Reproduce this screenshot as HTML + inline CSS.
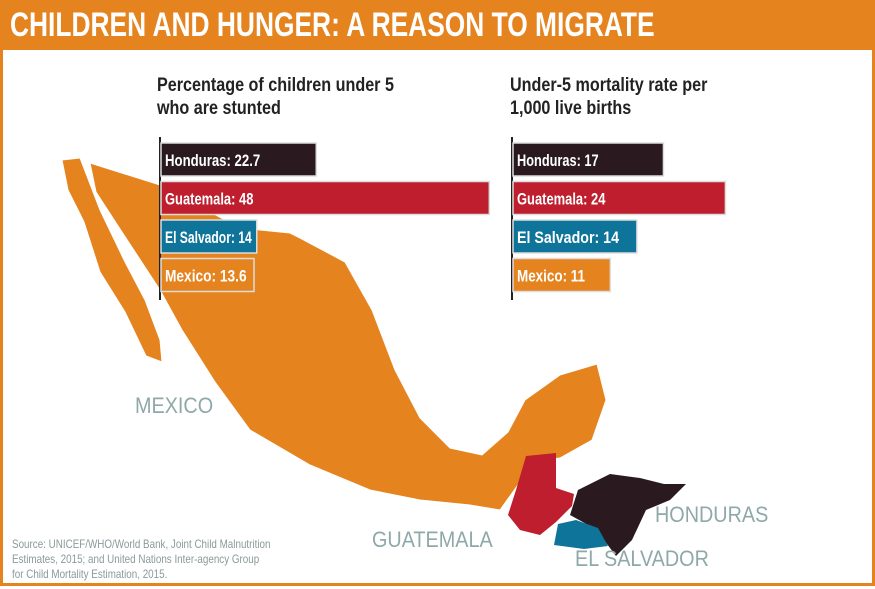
<!DOCTYPE html>
<html><head><meta charset="utf-8"><style>
body{margin:0;width:875px;height:589px;overflow:hidden;background:#fff;font-family:"Liberation Sans",sans-serif}
.frame{position:absolute;left:0;top:0;width:869px;height:583px;border:3px solid #E5831F;border-top:none}
.title{position:absolute;left:0;top:0;width:875px;height:50px;background:#E5831F}
.title span{position:absolute;left:10px;top:6px;color:#fff;font-weight:bold;font-size:34px;transform:scaleX(0.775);transform-origin:left top;white-space:nowrap}
.ct{position:absolute;font-weight:bold;font-size:19px;line-height:23px;color:#222;transform:scaleX(0.85);transform-origin:left top;white-space:nowrap}
.lbl{position:absolute;color:#8fa8a8;font-size:22px;transform:scaleX(0.9);transform-origin:left top;white-space:nowrap}
.src{position:absolute;left:12px;top:537px;color:#8a9a9a;font-size:12px;line-height:15px;transform:scaleX(0.82);transform-origin:left top;white-space:nowrap}
</style></head><body>
<div class="frame"></div>
<div class="title"><span>CHILDREN AND HUNGER: A REASON TO MIGRATE</span></div>
<svg width="875" height="589" style="position:absolute;left:0;top:0">
<g fill="#E5831F" stroke="#fff" stroke-width="1">
<path d="M62,160 L80,158 L100,210 L125,262 L145,300 L160,340 L162,362 L146,356 L125,312 L100,272 L84,222 L68,190Z"/>
<path d="M90,163 L160,185 L240,228 L290,233 L300,238 L345,262 L372,310 L395,370 L420,418 L450,448 L482,455 L508,432 L525,400 L560,375 L597,364 L606,400 L592,440 L560,458 L528,462 L520,482 L500,510 L470,505 L420,500 L370,490 L310,465 L250,430 L215,382 L182,330 L160,290 L122,232 L96,192Z"/>
</g>
<path fill="#BE1E2D" d="M526,456 L556,453 L556,488 L574,494 L572,506 L556,522 L540,535 L520,530 L508,515 L516,490Z"/>
<path fill="#2A1A20" d="M578,490 L610,474 L640,478 L664,484 L686,484 L670,500 L646,510 L632,540 L616,556 L604,540 L590,526 L570,515Z"/>
<path fill="#0F7499" d="M558,524 L576,520 L598,528 L608,546 L584,549 L554,545Z"/>
<g id="charts"></g>
</svg>
<div class="ct" style="left:157px;top:74px">Percentage of children under 5<br>who are stunted</div>
<div class="ct" style="left:510px;top:74px">Under-5 mortality rate per<br>1,000 live births</div>
<div class="lbl" style="left:135px;top:393px">MEXICO</div>
<div class="lbl" style="left:372px;top:527px">GUATEMALA</div>
<div class="lbl" style="left:655px;top:502px">HONDURAS</div>
<div class="lbl" style="left:575px;top:546px">EL SALVADOR</div>
<div class="src">Source: UNICEF/WHO/World Bank, Joint Child Malnutrition<br>Estimates, 2015; and United Nations Inter-agency Group<br>for Child Mortality Estimation, 2015.</div>
<script>
const countries=["Honduras","Guatemala","El Salvador","Mexico"];
const stunting=[22.7,48,14,13.6];
const mortality=[17,24,14,11];
const stuntingLabels=["22.7","48","14","13.6"];
const mortalityLabels=["17","24","14","11"];
const colors=["#2A1A20","#BE1E2D","#0F7499","#E5831F"];
const NS="http://www.w3.org/2000/svg";
const g=document.getElementById('charts');
function chart(x0,scale,vals,labs,name){
  const ax=document.createElementNS(NS,'line');
  
  
  ax.setAttribute('x1',x0);ax.setAttribute('x2',x0);ax.setAttribute('y1',137);ax.setAttribute('y2',300);
  ax.setAttribute('stroke','#222');ax.setAttribute('stroke-width','2');g.appendChild(ax);
  vals.forEach((v,i)=>{
    const y=143+i*38.5;
    const w=v*scale;
    const r=document.createElementNS(NS,'rect');
    
    
    r.setAttribute('x',x0+1);r.setAttribute('y',y);r.setAttribute('width',w);r.setAttribute('height',33);
    r.setAttribute('fill',colors[i]);r.setAttribute('stroke','#ddd');r.setAttribute('stroke-width','1.5');
    g.appendChild(r);
    const txt=countries[i]+': '+labs[i];
    const t=document.createElementNS(NS,'text');
    
    
    t.setAttribute('x',x0+5);t.setAttribute('y',y+23);t.setAttribute('fill','#fff');
    t.setAttribute('font-size','17');t.setAttribute('font-weight','bold');
    t.setAttribute('textLength',Math.min(txt.length*6.8,w-9));t.setAttribute('lengthAdjust','spacingAndGlyphs');
    t.textContent=txt;g.appendChild(t);
  });
}
chart(160,6.84,stunting,stuntingLabels,'stunting');
chart(512,8.85,mortality,mortalityLabels,'mortality');
</script>
</body></html>
